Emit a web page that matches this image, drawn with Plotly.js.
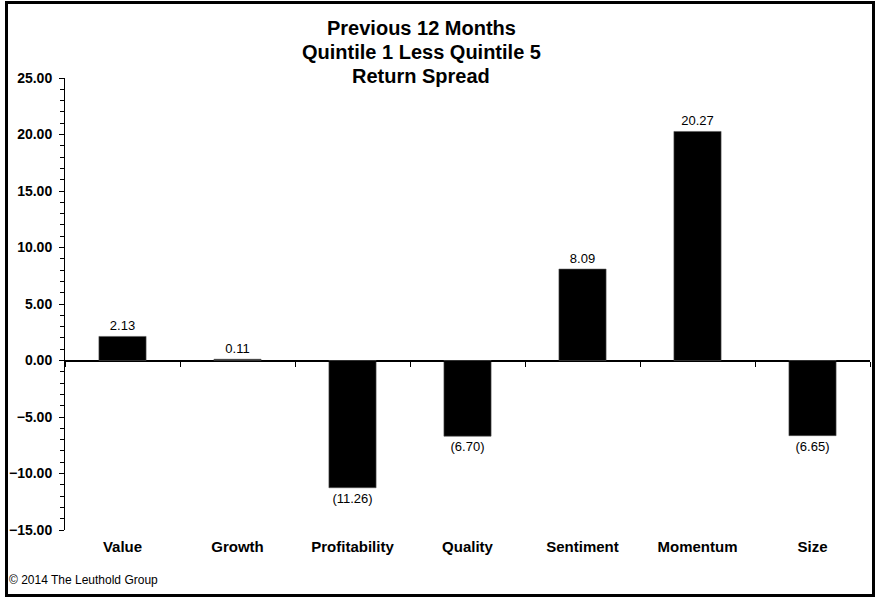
<!DOCTYPE html>
<html>
<head>
<meta charset="utf-8">
<script src="https://cdn.plot.ly/plotly-3.0.1.min.js"></script>
<style>
html,body{margin:0;padding:0;background:#fff;}
#chart{width:881px;height:601px;}
</style>
</head>
<body>
<div id="chart"></div>
<script>
const categories = ["Value","Growth","Profitability","Quality","Sentiment","Momentum","Size"];
const spreads = [2.13, 0.11, -11.26, -6.70, 8.09, 20.27, -6.65];
const titleLines = ["Previous 12 Months","Quintile 1 Less Quintile 5","Return Spread"];
const footnote = "© 2014 The Leuthold Group";

const labels = spreads.map(v => v < 0 ? "(" + Math.abs(v).toFixed(2) + ")" : v.toFixed(2));

const L = 65, R = 11, T = 78, B = 71, W = 881, H = 601;
const pw = W - L - R, ph = H - T - B;
const px = x => (x - L) / pw;
const py = y => (H - B - y) / ph;
const FONT = "Arial, Liberation Sans, sans-serif";

const trace = {
  type: "bar",
  x: categories,
  y: spreads,
  width: 0.41,
  marker: {color: "#000", line: {color: "#555", width: 0.6}},
  text: labels,
  textposition: "outside",
  textfont: {family: FONT, size: 13, color: "#000"},
  cliponaxis: false,
  hoverinfo: "skip"
};

const titleY = [28, 52, 76];
const titleAnns = titleLines.map((s, i) => ({
  text: "<b>" + s + "</b>", xref: "paper", yref: "paper",
  x: px(421), y: py(titleY[i]), xanchor: "center", yanchor: "middle",
  showarrow: false,
  font: {family: FONT, size: 20, color: "#000"}
}));

const layout = {
  width: W, height: H,
  margin: {l: L, r: R, t: T, b: B},
  paper_bgcolor: "#fff", plot_bgcolor: "#fff",
  showlegend: false,
  xaxis: {
    type: "category",
    anchor: "free",
    position: 15 / 40,
    showline: true, linecolor: "#000", linewidth: 1,
    ticks: "outside", tickson: "boundaries", ticklen: 5, tickcolor: "#000", tickwidth: 1,
    ticklabelstandoff: 172,
    tickfont: {family: FONT, size: 15, color: "#000", weight: "bold"},
    showgrid: false, zeroline: false, fixedrange: true
  },
  yaxis: {
    range: [-15, 25],
    dtick: 5, tick0: 0,
    tickformat: ".2f",
    showline: true, linecolor: "#000", linewidth: 1,
    ticks: "outside", ticklen: 5, tickcolor: "#000",
    ticklabelstandoff: 4,
    minor: {dtick: 1, ticks: "outside", ticklen: 4, tickcolor: "#000", showgrid: false},
    tickfont: {family: FONT, size: 14, color: "#000", weight: "bold"},
    showgrid: false, zeroline: true, zerolinecolor: "#000", zerolinewidth: 1,
    fixedrange: true
  },
  shapes: [{
    type: "rect", xref: "paper", yref: "paper",
    x0: px(6.5), x1: px(873.5), y0: py(595.5), y1: py(2.5),
    line: {color: "#000", width: 3}, fillcolor: "rgba(0,0,0,0)", layer: "above"
  }],
  annotations: titleAnns.concat([{
    text: footnote, xref: "paper", yref: "paper",
    x: px(7), y: py(580), xanchor: "left", yanchor: "middle",
    showarrow: false,
    font: {family: FONT, size: 12, color: "#000"}
  }])
};

Plotly.newPlot("chart", [trace], layout, {displayModeBar: false, staticPlot: true});
</script>
</body>
</html>
